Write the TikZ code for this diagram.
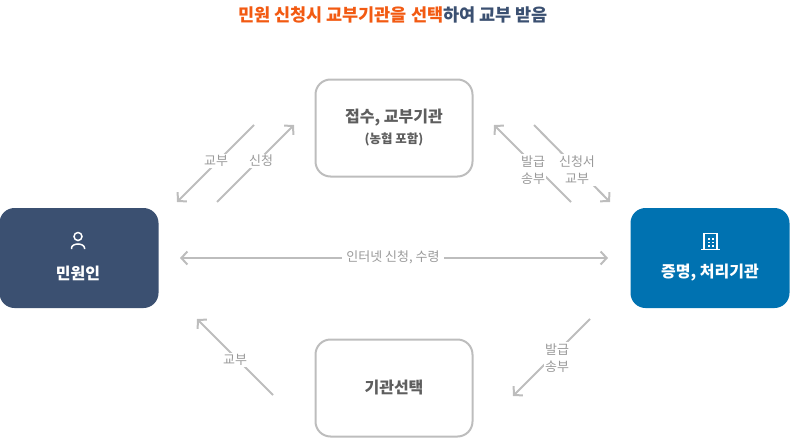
\documentclass[tikz,border=0pt]{standalone}
\usepackage{fontspec}
\setmainfont{Noto Sans CJK KR}
\usetikzlibrary{arrows.meta}
\definecolor{navy}{HTML}{3B5071}
\definecolor{bluebox}{HTML}{0072B1}
\definecolor{orangetxt}{HTML}{F25A12}
\definecolor{linegray}{HTML}{BDBDBD}
\definecolor{labelgray}{HTML}{9A9A9A}
\definecolor{darktxt}{HTML}{5E5E5E}
\tikzset{
  solidbox/.style={rounded corners=15pt,minimum width=159pt,minimum height=100pt,inner sep=0pt,text=white,font=\fontsize{16}{20}\selectfont\bfseries},
  linebox/.style={rounded corners=15pt,draw=linegray,line width=2pt,minimum width=157pt,minimum height=97pt,inner sep=0pt,align=center,text=darktxt,font=\fontsize{16}{20}\selectfont\bfseries},
  conn/.style={draw=linegray,line width=2pt,-{Straight Barb[length=6pt,width=13pt,line width=2pt]}},
  connplain/.style={draw=linegray,line width=2pt},
  lab/.style={fill=white,text=labelgray,align=center,inner sep=1.5pt,font=\fontsize{13}{17}\selectfont},
  icon/.style={draw=white,line width=1.5pt}
}
\begin{document}
\begin{tikzpicture}[x=1pt,y=-1pt]
\useasboundingbox (0,0) rectangle (790,439);
\node[font=\fontsize{17.5}{20}\selectfont\bfseries,inner sep=0pt] (title) at (393,15) {\textcolor{orangetxt}{민원 신청시 교부기관을 선택}\textcolor{navy}{ 하여 교부 받음}};
\node[solidbox,fill=navy,text depth=0pt] (citizen) at (79,258) {};
\node[solidbox,fill=bluebox] (agency) at (710,258) {};
\node[linebox] (office) at (394,128) {};
\node[linebox] (choice) at (394,388) {기관선택};
\node[text=darktxt,font=\fontsize{16}{20}\selectfont\bfseries,inner sep=0pt] (officeA) at (394,118) {접수, 교부기관};
\node[text=darktxt,font=\fontsize{12.5}{16}\selectfont\bfseries,inner sep=0pt] (officeB) at (394,139) {(농협 포함)};
\node[text=white,font=\fontsize{16}{20}\selectfont\bfseries,inner sep=0pt] (citizenT) at (78,273) {민원인};
\node[text=white,font=\fontsize{16}{20}\selectfont\bfseries,inner sep=0pt] (agencyT) at (710,273) {증명, 처리기관};
% person icon
\draw[icon] (78,236.5) circle (4pt);
\draw[icon] (71.5,249) -- (71.5,248) arc[start angle=180,end angle=360,x radius=6.5pt,y radius=-4pt] -- (84.5,249);
% building icon
\draw[icon,line width=1.3pt] (704,249) -- (704,233.5) -- (717,233.5) -- (717,249);
\draw[icon,line width=1.3pt] (701,249.5) -- (720,249.5);
\foreach \y in {238,241.5,245}{\fill[white] (707.5,\y) rectangle +(2,1.6);\fill[white] (711.5,\y) rectangle +(2,1.6);}
% connector ends
\coordinate (a1) at (254,125); \coordinate (a2) at (177,202);
\coordinate (b1) at (217,202); \coordinate (b2) at (294,125);
\coordinate (c1) at (571,202); \coordinate (c2) at (494,125);
\coordinate (d1) at (534,125); \coordinate (d2) at (610,202);
\coordinate (e1) at (180,258); \coordinate (e2) at (608,258);
\coordinate (f1) at (273,395); \coordinate (f2) at (197,319);
\coordinate (g1) at (590,319); \coordinate (g2) at (513,396);
\draw[conn] (a1) -- (a2);
\draw[conn] (b1) -- (b2);
\draw[conn] (c1) -- (c2);
\draw[conn] (d1) -- (d2);
\draw[conn,{Straight Barb[length=6pt,width=13pt,line width=2pt]}-{Straight Barb[length=6pt,width=13pt,line width=2pt]}] (e1) -- (e2);
\draw[conn] (f1) -- (f2);
\draw[conn] (g1) -- (g2);
\node[lab] (l1) at (216,161) {교부};
\node[lab] (l2) at (261,161) {신청};
\node[lab] (l3) at (533,170) {발급\\송부};
\node[lab] (l4) at (577,170) {신청서\\교부};
\node[lab,inner xsep=4pt] (l5) at (393,257) {인터넷 신청, 수령};
\node[lab] (l6) at (235,360) {교부};
\node[lab] (l7) at (557,358) {발급\\송부};
\end{tikzpicture}
\end{document}
